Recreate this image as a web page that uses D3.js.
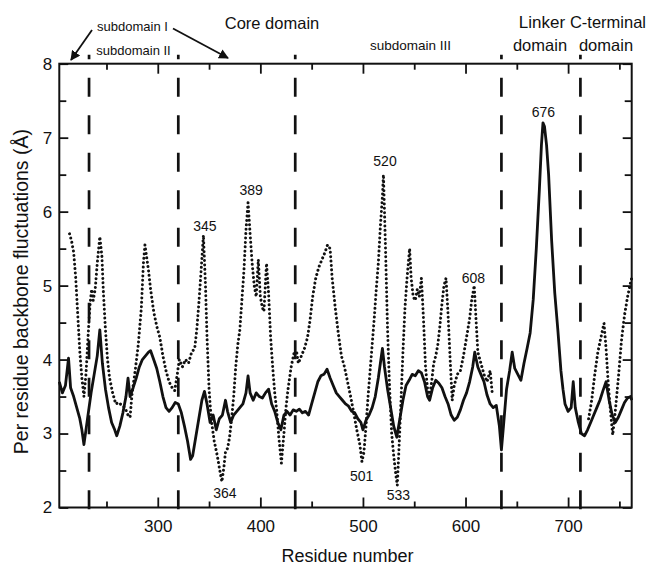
<!DOCTYPE html>
<html>
<head>
<meta charset="utf-8">
<script src="https://cdn.jsdelivr.net/npm/d3@7"></script>
<style>
html, body { margin: 0; padding: 0; background: #fff; }
svg { display: block; font-family: "Liberation Sans", Arial, Helvetica, sans-serif; }
</style>
</head>
<body>
<svg id="chart" width="648" height="567"></svg>
<script>
// === DATA ===
const solidResidues = [204, 207, 210, 213, 215, 218, 221, 224, 226, 228, 230, 232, 235, 238, 241, 243.5, 246, 249, 252, 255,
    258, 260, 263, 266, 269, 271, 273, 276, 279, 282, 285, 288, 291, 293, 296, 299, 302, 305, 308, 311,
    314, 317, 320, 323, 326, 329, 332, 334, 337, 340, 343, 345.5, 348, 351, 354, 357, 360, 363, 366, 368,
    371, 374, 377, 380, 383, 386, 388, 390, 393, 396, 399, 402, 405, 408, 411, 414, 417, 420, 423, 426,
    429, 432, 435, 438, 441, 444, 447, 450, 453, 456, 459, 462, 465, 468, 471, 474, 477, 480, 483, 486,
    489, 492, 495, 498, 500, 503, 506, 509, 512, 515, 517, 519, 521, 524, 527, 530, 533, 536, 539, 542,
    545, 548, 551, 554, 557, 560, 563, 565, 568, 571, 574, 577, 580, 583, 586, 589, 592, 595, 598, 601,
    604, 607, 609, 612, 615, 618, 621, 624, 627, 630, 633, 635, 637, 640, 643, 645.5, 648, 651, 654, 657,
    660, 663, 666, 669, 672, 674, 675.5, 677, 679, 681, 684, 687, 690, 693, 695, 697, 700, 703, 705, 707,
    710, 713, 716, 719, 722, 725, 728, 731, 734, 737, 740, 743, 746, 749, 752, 755, 758, 761, 762]
const solidValues = [3.70, 3.55, 3.65, 4.02, 3.62, 3.50, 3.35, 3.20, 3.05, 2.85, 3.05, 3.25, 3.55, 3.80, 4.05, 4.40, 3.95, 3.60, 3.35, 3.15,
    3.05, 2.97, 3.10, 3.28, 3.50, 3.75, 3.50, 3.62, 3.75, 3.90, 4.00, 4.05, 4.10, 4.12, 4.00, 3.88, 3.70, 3.50, 3.35, 3.30,
    3.35, 3.42, 3.40, 3.28, 3.10, 2.90, 2.65, 2.70, 2.95, 3.20, 3.45, 3.57, 3.40, 3.15, 3.25, 3.05, 3.20, 3.25, 3.45, 3.30,
    3.15, 3.25, 3.30, 3.35, 3.40, 3.55, 3.78, 3.55, 3.45, 3.55, 3.50, 3.48, 3.55, 3.60, 3.40, 3.30, 3.15, 3.05, 3.25, 3.30,
    3.25, 3.32, 3.30, 3.33, 3.28, 3.30, 3.25, 3.40, 3.55, 3.70, 3.78, 3.80, 3.87, 3.75, 3.65, 3.55, 3.50, 3.45, 3.40, 3.37,
    3.30, 3.28, 3.20, 3.15, 3.05, 3.18, 3.25, 3.35, 3.50, 3.75, 3.95, 4.15, 3.90, 3.60, 3.35, 3.10, 2.95, 3.20, 3.45, 3.65,
    3.72, 3.80, 3.78, 3.85, 3.82, 3.70, 3.50, 3.45, 3.62, 3.72, 3.68, 3.62, 3.50, 3.40, 3.25, 3.18, 3.22, 3.32, 3.45, 3.55,
    3.70, 3.90, 4.10, 3.90, 3.80, 3.70, 3.52, 3.40, 3.35, 3.38, 3.10, 2.78, 3.10, 3.60, 3.85, 4.10, 3.88, 3.80, 3.72, 3.95,
    4.15, 4.36, 4.81, 5.50, 6.30, 6.90, 7.20, 7.15, 6.90, 6.50, 5.60, 4.90, 4.40, 3.85, 3.60, 3.40, 3.30, 3.35, 3.70, 3.35,
    3.15, 3.00, 2.97, 3.05, 3.15, 3.25, 3.35, 3.45, 3.58, 3.70, 3.45, 3.25, 3.15, 3.22, 3.32, 3.42, 3.48, 3.50, 3.45]

// null marks the gap in the dotted run (linker region)
const dottedResidues = [214, 216, 218, 220, 222, 224, 226, 228, 230, 232, 234, 235.5, 237, 239, 241, 243.5, 245.5, 247, 249, 251,
    253, 256, 259, 262, 265, 268, 271, 273, 275, 278, 281, 284, 286, 287.5, 289, 291, 293, 296, 299, 302,
    305, 308, 311, 314, 316.5, 319, 321, 324, 327, 330, 333, 336, 338, 340, 342, 344.5, 346.5, 348, 350, 352,
    355, 358, 360.5, 362.5, 364.5, 366, 368, 370, 372, 374, 376, 378, 380, 382, 384, 386, 388, 390, 392, 394,
    396, 398, 400, 402, 403.5, 406, 408, 410, 412, 414, 416, 418, 420.5, 423, 425, 427, 430, 433, 435.5, 437,
    440, 443, 446, 448.5, 451, 454, 457, 460, 463, 465.5, 468, 470, 473, 476, 479, 482, 485, 488, 491, 494,
    497, 499, 501, 503, 505, 507, 509, 511, 513, 515, 517, 519, 520, 522, 524, 526, 528, 530, 532, 533.5,
    535, 537, 539, 541, 543, 545.5, 547, 549, 551, 553, 555, 557, 559, 561, 563, 565, 567, 569, 571, 573,
    575, 577, 579, 581, 583, 585, 587, 589, 592, 595, 598, 601, 604, 606, 608.5, 610, 612, 615, 618, 621,
    624, 626, 670, 720, 723, 726, 729, 732, 735, 737, 739, 741, 743.5, 746, 749, 752, 755, 758, 761, 762]
const dottedValues = [5.70, 5.60, 5.45, 5.10, 4.60, 4.10, 3.75, 3.50, 3.80, 4.30, 4.75, 4.95, 4.80, 4.95, 5.30, 5.66, 5.40, 4.90, 4.40, 4.00,
    3.75, 3.55, 3.40, 3.42, 3.38, 3.35, 3.25, 3.22, 3.55, 3.85, 4.20, 4.70, 5.30, 5.55, 5.40, 5.20, 4.95, 4.65, 4.45, 4.30,
    4.05, 3.85, 3.70, 3.62, 3.58, 3.80, 4.00, 3.90, 4.00, 3.95, 4.10, 4.15, 4.40, 4.75, 5.15, 5.68, 5.00, 4.30, 3.60, 3.20,
    2.90, 2.70, 2.50, 2.35, 2.55, 2.75, 2.80, 2.95, 3.20, 3.50, 3.90, 4.20, 4.40, 4.80, 5.20, 5.75, 6.12, 5.70, 5.30, 5.00,
    4.85, 5.35, 4.85, 4.70, 4.65, 5.30, 4.90, 4.30, 3.90, 3.55, 3.30, 2.95, 2.60, 3.00, 3.35, 3.60, 3.90, 4.10, 4.09, 3.95,
    4.05, 4.15, 4.30, 4.54, 4.85, 5.10, 5.25, 5.35, 5.45, 5.55, 5.50, 5.10, 4.70, 4.35, 4.05, 3.90, 3.70, 3.50, 3.28, 3.05,
    2.85, 2.62, 2.75, 3.10, 3.50, 3.85, 4.20, 4.55, 4.95, 5.30, 5.80, 6.20, 6.50, 5.50, 4.40, 3.60, 3.00, 2.70, 2.45, 2.30,
    2.75, 3.40, 4.10, 4.70, 5.10, 5.50, 5.10, 4.85, 4.80, 4.95, 4.85, 5.10, 4.55, 3.90, 3.60, 3.50, 3.70, 3.95, 4.05, 4.20,
    4.45, 4.75, 5.00, 5.10, 4.60, 4.00, 3.45, 3.65, 3.80, 3.85, 4.05, 4.30, 4.55, 4.80, 5.00, 4.60, 4.10, 3.95, 3.80, 3.70,
    3.85, 3.55, null, 3.20, 3.45, 3.80, 4.10, 4.30, 4.49, 4.15, 3.70, 3.35, 2.98, 3.30, 3.75, 4.25, 4.60, 4.85, 5.05, 5.10]

const domainBounds = [233, 320, 434, 635, 712]

const xMajorTicks = [300, 400, 500, 600, 700]
const xMinorTicks = [250, 350, 450, 550, 650, 750]
const yMajorTicks = [2, 3, 4, 5, 6, 7, 8]
const yMinorTicks = [2.5, 3.5, 4.5, 5.5, 6.5, 7.5]

const peakLabels = ['345', '389', '364', '520', '608', '676', '501', '533']
const peakResidues = [346, 391, 365.5, 521.5, 607.6, 676, 498.8, 534.5]
const peakValues = [5.74, 6.23, 2.13, 6.62, 5.04, 7.28, 2.36, 2.10]

const xTitle = 'Residue number'
const yTitle = 'Per residue backbone fluctuations (Å)'

// === LAYOUT ===
const margin = { left: 59.3, right: 631.7, top: 63.7, bottom: 507.5 }

const x = d3.scaleLinear().domain([204, 762]).range([margin.left, margin.right])
const y = d3.scaleLinear().domain([2, 8]).range([margin.bottom, margin.top])

const svg = d3.select('#chart')

// === AXES ===
const ink = '#111'

const addAxis = (axis, tx, ty) => {
    const g = svg.append('g')
        .attr('transform', `translate(${tx},${ty})`)
        .call(axis)
    g.select('.domain').remove()
    g.selectAll('line').attr('stroke', ink).attr('stroke-width', 1.8)
    g.selectAll('text').attr('fill', ink).attr('font-size', 17)
        .attr('font-family', '"Liberation Sans", Arial, sans-serif')
    return g
}

// bottom
addAxis(d3.axisBottom(x).tickValues(xMajorTicks).tickSize(-10).tickPadding(12).tickFormat(d3.format('d')), 0, margin.bottom)
addAxis(d3.axisBottom(x).tickValues(xMinorTicks).tickSize(-6).tickFormat(''), 0, margin.bottom)
// top
addAxis(d3.axisTop(x).tickValues(xMajorTicks).tickSize(-10).tickFormat(''), 0, margin.top)
addAxis(d3.axisTop(x).tickValues(xMinorTicks).tickSize(-6).tickFormat(''), 0, margin.top)
// left
addAxis(d3.axisLeft(y).tickValues(yMajorTicks).tickSize(-9).tickPadding(7).tickFormat(d3.format('d')), margin.left, 0)
addAxis(d3.axisLeft(y).tickValues(yMinorTicks).tickSize(-7).tickFormat(''), margin.left, 0)
// right
addAxis(d3.axisRight(y).tickValues(yMajorTicks).tickSize(-9).tickFormat(''), margin.right, 0)
addAxis(d3.axisRight(y).tickValues(yMinorTicks).tickSize(-7).tickFormat(''), margin.right, 0)

// frame
svg.append('rect')
    .attr('x', margin.left)
    .attr('y', margin.top)
    .attr('width', margin.right - margin.left)
    .attr('height', margin.bottom - margin.top)
    .attr('fill', 'none')
    .attr('stroke', ink)
    .attr('stroke-width', 2)

// === DOMAIN BOUNDARIES ===
svg.append('g').selectAll('line')
    .data(domainBounds)
    .join('line')
    .attr('x1', d => x(d))
    .attr('x2', d => x(d))
    .attr('y1', margin.top - 9)
    .attr('y2', margin.bottom + 9)
    .attr('stroke', ink)
    .attr('stroke-width', 2.7)
    .attr('stroke-dasharray', '19,18.5')
    .attr('stroke-dashoffset', 14.5)

// === SERIES ===
const solid = solidResidues.map((r, i) => [r, solidValues[i]])
const dotted = dottedResidues.map((r, i) => [r, dottedValues[i]])

const line = d3.line()
    .defined(d => d[1] != null)
    .x(d => x(d[0]))
    .y(d => y(d[1]))

svg.append('path')
    .datum(dotted)
    .attr('d', line)
    .attr('fill', 'none')
    .attr('stroke', ink)
    .attr('stroke-width', 3)
    .attr('stroke-linecap', 'round')
    .attr('stroke-dasharray', '0.01,4.4')

svg.append('path')
    .datum(solid)
    .attr('d', line)
    .attr('fill', 'none')
    .attr('stroke', ink)
    .attr('stroke-width', 2.8)
    .attr('stroke-linejoin', 'round')

// === PEAK LABELS ===
svg.append('g').selectAll('text')
    .data(peakLabels)
    .join('text')
    .attr('x', (d, i) => x(peakResidues[i]))
    .attr('y', (d, i) => y(peakValues[i]))
    .attr('text-anchor', 'middle')
    .attr('font-size', 14)
    .attr('fill', ink)
    .text(d => d)

// === DOMAIN HEADERS ===
const header = svg.append('g').attr('fill', ink)

const addText = (tx, ty, size, str) => header.append('text')
    .attr('x', tx).attr('y', ty)
    .attr('text-anchor', 'middle')
    .attr('font-size', size)
    .text(str)

addText(132.5, 31, 13, 'subdomain I')
addText(133.5, 55, 13, 'subdomain II')
addText(272, 29, 16.5, 'Core domain')
addText(410.5, 50, 13.5, 'subdomain III')
addText(542, 28, 17, 'Linker')
addText(540, 51, 16.5, 'domain')
addText(608, 28, 16.5, 'C-terminal')
addText(606, 51, 16.5, 'domain')

// arrows
svg.append('defs').append('marker')
    .attr('id', 'head')
    .attr('viewBox', '0 0 10 10')
    .attr('refX', 9).attr('refY', 5)
    .attr('markerWidth', 5.5).attr('markerHeight', 5.5)
    .attr('markerUnits', 'strokeWidth')
    .attr('orient', 'auto')
    .append('path')
    .attr('d', 'M0,0 L10,5 L0,10 Z')
    .attr('fill', ink)

header.append('line')
    .attr('x1', 92).attr('y1', 30).attr('x2', 71).attr('y2', 60)
    .attr('stroke', ink).attr('stroke-width', 1.8).attr('marker-end', 'url(#head)')
header.append('line')
    .attr('x1', 173).attr('y1', 28.5).attr('x2', 228).attr('y2', 58)
    .attr('stroke', ink).attr('stroke-width', 1.8).attr('marker-end', 'url(#head)')

// === TITLES ===
svg.append('text')
    .attr('x', (margin.left + margin.right) / 2 + 2)
    .attr('y', 562)
    .attr('text-anchor', 'middle')
    .attr('font-size', 18)
    .attr('fill', ink)
    .text(xTitle)

svg.append('text')
    .attr('transform', `translate(28,${(margin.top + margin.bottom) / 2 + 6}) rotate(-90)`)
    .attr('text-anchor', 'middle')
    .attr('font-size', 19.5)
    .attr('fill', ink)
    .text(yTitle)
</script>
</body>
</html>
